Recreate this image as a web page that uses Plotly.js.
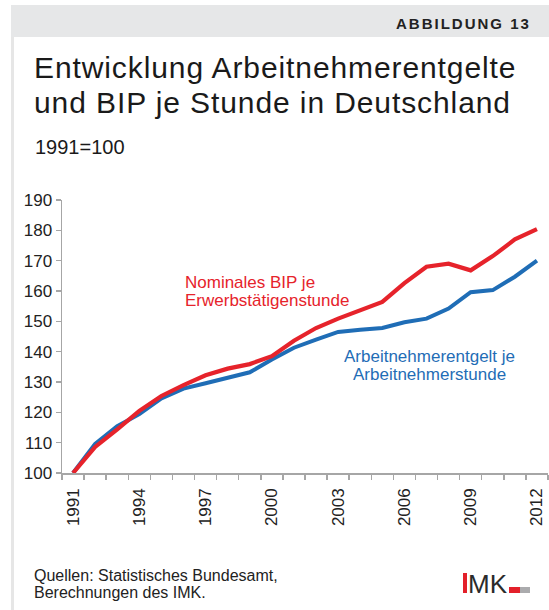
<!DOCTYPE html>
<html>
<head>
<meta charset="utf-8">
<script src="https://cdn.plot.ly/plotly-3.0.1.min.js"></script>
<style>
html,body{margin:0;padding:0;background:#fff;}
#chart{width:549px;height:610px;}
</style>
</head>
<body>
<div id="chart"></div>
<script>
// ---- data ----
var years = [1991,1992,1993,1994,1995,1996,1997,1998,1999,2000,2001,2002,2003,2004,2005,2006,2007,2008,2009,2010,2011,2012];
var bipJeStunde = [100,108.6,114.4,120.5,125.4,129.0,132.2,134.4,135.9,138.5,143.6,147.8,150.9,153.7,156.4,162.6,168.0,169.0,166.8,171.5,177.0,180.4];
var entgeltJeStunde = [100,109.6,115.4,119.4,124.6,127.8,129.6,131.4,133.2,137.4,141.3,144.0,146.5,147.2,147.8,149.7,150.9,154.2,159.6,160.3,164.7,170.0];
var tickYears = [1991,1994,1997,2000,2003,2006,2009,2012];
var tickLabels = ["1991","1994","1997","2000","2003","2006","2009","2012"];
var seriesNames = ["Nominales BIP je Erwerbstätigenstunde","Arbeitnehmerentgelt je Arbeitnehmerstunde"];

// ---- layout helpers (pixel -> paper) ----
var W = 549, H = 610, ML = 62, MR = 1, MT = 200, MB = 137;
var PW = W - ML - MR, PH = H - MT - MB;
function px(X){ return (X - ML) / PW; }
function py(Y){ return (H - MB - Y) / PH; }

var FONT = "Liberation Sans, Arial, Helvetica, sans-serif";
var RED = "#E6232B", BLUE = "#1F6DB6", AX = "#A6A6A6";

function ann(text, X, Y, size, color, xanchor, extra){
  var a = {text:text, x:px(X), y:py(Y), xref:"paper", yref:"paper", showarrow:false,
    xanchor:xanchor||"left", yanchor:"middle", font:{family:FONT, size:size, color:color}};
  if (extra) for (var k in extra) a[k] = extra[k];
  return a;
}
function rect(x0,y0,x1,y1,color){
  return {type:"rect", xref:"paper", yref:"paper", x0:px(x0), x1:px(x1), y0:py(y1), y1:py(y0),
    fillcolor:color, line:{width:0}, layer:"below"};
}
function spaced(t, s){ return '<span style="letter-spacing:' + s + 'px">' + t + '</span>'; }

var traces = [
  {x:years, y:entgeltJeStunde, name:seriesNames[1], type:"scatter", mode:"lines",
   line:{color:BLUE, width:4}, cliponaxis:false, hoverinfo:"skip"},
  {x:years, y:bipJeStunde, name:seriesNames[0], type:"scatter", mode:"lines",
   line:{color:RED, width:4.2}, cliponaxis:false, hoverinfo:"skip"}
];

var layout = {
  width:W, height:H, margin:{l:ML, r:MR, t:MT, b:MB, pad:0},
  paper_bgcolor:"#ffffff", plot_bgcolor:"rgba(0,0,0,0)", showlegend:false,
  font:{family:FONT, color:"#222"},
  xaxis:{type:"linear", range:[years[0]-0.5, years[years.length-1]+0.5],
    tickmode:"array", tickvals:tickYears, ticktext:tickLabels, tickangle:-90,
    ticks:"outside", ticklen:7, tickcolor:"rgba(0,0,0,0)",
    tickfont:{family:FONT, size:17, color:"#222"},
    minor:{tickmode:"linear", tick0:years[0]-0.5, dtick:1, ticks:"outside", ticklen:5, tickwidth:1.5, tickcolor:AX, showgrid:false},
    showline:true, linecolor:AX, linewidth:1.5, showgrid:false, zeroline:false, fixedrange:true},
  yaxis:{range:[100,190], dtick:10, tick0:100, ticks:"outside", ticklen:5, tickwidth:1.5, tickcolor:AX,
    tickfont:{family:FONT, size:17, color:"#222"},
    showline:true, linecolor:AX, linewidth:1.5, showgrid:false, zeroline:false, fixedrange:true},
  shapes:[
    rect(11, 5, 549, 37, "#E6E7E8"),
    rect(11, 37, 14, 610, "#E6E6E6"),
    rect(463, 573, 467, 593, "#E3202A"),
    rect(509, 587, 520, 593, "#E3202A"),
    rect(520, 587, 530, 593, "#ABABAD")
  ],
  annotations:[
    ann('<b>' + spaced("ABBILDUNG 13", 2) + '</b>', 533, 23, 15, "#222", "right"),
    ann(spaced("Entwicklung Arbeitnehmerentgelte", 0.9), 32, 68, 30, "#1A1A1A"),
    ann(spaced("und BIP je Stunde in Deutschland", 0.9), 32, 103, 30, "#1A1A1A"),
    ann("1991=100", 33, 146.5, 20, "#1A1A1A"),
    ann("Nominales BIP je", 183, 282, 17, RED),
    ann("Erwerbstätigenstunde", 183, 300, 17, RED),
    ann("Arbeitnehmerentgelt je", 429, 356, 17, BLUE, "center"),
    ann("Arbeitnehmerstunde", 429, 374, 17, BLUE, "center"),
    ann("Quellen: Statistisches Bundesamt,", 32, 575, 16, "#222"),
    ann("Berechnungen des IMK.", 32, 592, 16, "#222"),
    ann("MK", 466, 584, 26, "#2B2B2B")
  ]
};

Plotly.newPlot("chart", traces, layout, {staticPlot:true, displayModeBar:false});
</script>
</body>
</html>
